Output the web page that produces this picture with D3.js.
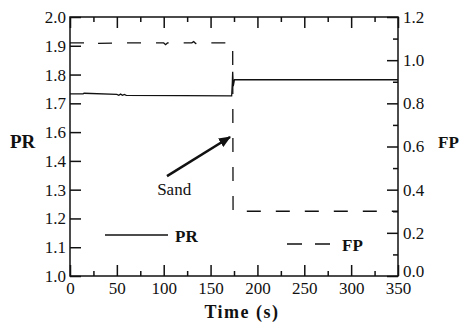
<!DOCTYPE html>
<html>
<head>
<meta charset="utf-8">
<script src="https://cdn.jsdelivr.net/npm/d3@7/dist/d3.min.js"></script>
<style>
  body { margin: 0; background: #fff; }
  svg text { font-family: 'Liberation Serif', 'Times New Roman', serif; }
</style>
</head>
<body>
<div id="chart"></div>
<script>
// Data
const prTime  = [0, 14, 15, 50, 52, 54, 56, 58, 60, 120, 172.5, 173.2, 173.6, 174.2, 175.5, 350];
const prValue = [1.733, 1.733, 1.735, 1.731, 1.728, 1.732, 1.728, 1.731, 1.728, 1.727, 1.726, 1.77, 1.81, 1.76, 1.782, 1.782];

const fpTime  = [0, 18, 20, 22, 60, 100, 102, 104, 130, 132, 134, 136, 150, 172.5, 173, 173.6, 174, 350];
const fpValue = [1.08, 1.08, 1.085, 1.077, 1.08, 1.08, 1.072, 1.08, 1.08, 1.086, 1.077, 1.08, 1.08, 1.08, 1.06, 1.06, 0.3, 0.3];

const timeTicks = [0, 50, 100, 150, 200, 250, 300, 350];
const timeMinor = [25, 75, 125, 175, 225, 275, 325];
// the original figure skips "1.5" in its left labels
const prTicks = [1.1, 1.2, 1.3, 1.4, 1.5, 1.6, 1.7, 1.8, 1.9, 2.0];
const prTickLabels = ["1.0", "1.1", "1.2", "1.3", "1.4", "1.6", "1.7", "1.8", "1.9", "2.0"];
const fpTicks = [0, 0.2, 0.4, 0.6, 0.8, 1.0, 1.2];
const fpMinor = [0.1, 0.3, 0.5, 0.7, 0.9, 1.1];

(function () {
const W = 460, H = 330;
const m = { left: 70, right: 398, top: 17, bottom: 276 };
const ink = "#111";
const serif = "'Liberation Serif', 'Times New Roman', serif";

const svg = d3.select("#chart").append("svg")
    .attr("width", W).attr("height", H);

const x = d3.scaleLinear().domain([0, 350]).range([m.left, m.right]);
const yPR = d3.scaleLinear().domain([1.1, 2.0]).range([m.bottom, m.top]);
const yFP = d3.scaleLinear().domain([0, 1.2]).range([m.bottom, m.top]);

// arrow marker
svg.append("defs").append("marker")
    .attr("id", "arrow")
    .attr("viewBox", "0 0 12 10")
    .attr("refX", 11).attr("refY", 5)
    .attr("markerWidth", 12).attr("markerHeight", 10)
    .attr("markerUnits", "userSpaceOnUse")
    .attr("orient", "auto")
  .append("path")
    .attr("d", "M0,0 L12,5 L0,10 z")
    .attr("fill", ink);

// ticks (all pointing inward)
function styleAxis(g) {
    g.attr("font-family", null).attr("font-size", null);
    g.selectAll("line").attr("stroke", ink).attr("stroke-width", 1.5);
    g.selectAll("path.domain").remove();
    g.selectAll("text").attr("fill", ink).style("font-size", "17px")
        .style("font-family", serif);
}

svg.append("g").attr("transform", `translate(0,${m.bottom})`)
    .call(d3.axisBottom(x).tickValues(timeTicks).tickSize(-11).tickSizeOuter(0).tickPadding(6).tickFormat(d3.format("d")))
    .call(styleAxis);
svg.append("g").attr("transform", `translate(0,${m.bottom})`)
    .call(d3.axisBottom(x).tickValues(timeMinor).tickSize(-5).tickSizeOuter(0).tickFormat(""))
    .call(styleAxis);
svg.append("g").attr("transform", `translate(0,${m.top})`)
    .call(d3.axisTop(x).tickValues(timeTicks).tickSize(-11).tickSizeOuter(0).tickFormat(""))
    .call(styleAxis);
svg.append("g").attr("transform", `translate(0,${m.top})`)
    .call(d3.axisTop(x).tickValues(timeMinor).tickSize(-5).tickSizeOuter(0).tickFormat(""))
    .call(styleAxis);

svg.append("g").attr("transform", `translate(${m.left},0)`)
    .call(d3.axisLeft(yPR).tickValues(prTicks).tickSize(-11).tickSizeOuter(0).tickPadding(4)
        .tickFormat((d, i) => prTickLabels[i]))
    .call(styleAxis);

svg.append("g").attr("transform", `translate(${m.right},0)`)
    .call(d3.axisRight(yFP).tickValues(fpTicks).tickSize(-11).tickSizeOuter(0).tickPadding(5).tickFormat(d3.format(".1f")))
    .call(styleAxis)
    .call(g => g.selectAll("text").filter(d => d === 0).attr("dy", "0.05em"));
svg.append("g").attr("transform", `translate(${m.right},0)`)
    .call(d3.axisRight(yFP).tickValues(fpMinor).tickSize(-5).tickSizeOuter(0).tickFormat(""))
    .call(styleAxis);

// frame
svg.append("rect")
    .attr("x", m.left).attr("y", m.top)
    .attr("width", m.right - m.left).attr("height", m.bottom - m.top)
    .attr("fill", "none").attr("stroke", ink).attr("stroke-width", 1.5);

// series
const prLine = d3.line().x((d, i) => x(prTime[i])).y(d => yPR(d));
const fpLine = d3.line().x((d, i) => x(fpTime[i])).y(d => yFP(d));

svg.append("path")
    .attr("d", prLine(prValue))
    .attr("fill", "none").attr("stroke", ink).attr("stroke-width", 1.3);

svg.append("path")
    .attr("d", fpLine(fpValue))
    .attr("fill", "none").attr("stroke", ink).attr("stroke-width", 1.3)
    .attr("stroke-dasharray", "14,15");

// annotation
svg.append("line")
    .attr("x1", x(103.5)).attr("y1", yPR(1.447))
    .attr("x2", x(170.8)).attr("y2", yPR(1.583))
    .attr("stroke", ink).attr("stroke-width", 2.5)
    .attr("marker-end", "url(#arrow)");
svg.append("text")
    .attr("x", x(93)).attr("y", 195)
    .attr("font-family", serif)
    .attr("font-size", 17).attr("fill", ink)
    .text("Sand");

// legend
svg.append("line")
    .attr("x1", 105).attr("x2", 168).attr("y1", 235).attr("y2", 235)
    .attr("stroke", ink).attr("stroke-width", 1.3);
svg.append("text")
    .attr("x", 175).attr("y", 242)
    .attr("font-family", serif)
    .attr("font-size", 17).attr("font-weight", "bold").attr("fill", ink)
    .text("PR");
svg.append("line")
    .attr("x1", 287).attr("x2", 330).attr("y1", 244).attr("y2", 244)
    .attr("stroke", ink).attr("stroke-width", 1.3)
    .attr("stroke-dasharray", "15,13");
svg.append("text")
    .attr("x", 342).attr("y", 251)
    .attr("font-family", serif)
    .attr("font-size", 17).attr("font-weight", "bold").attr("fill", ink)
    .text("FP");

// axis titles
svg.append("text")
    .attr("x", 242).attr("y", 318)
    .attr("text-anchor", "middle")
    .attr("font-family", serif)
    .attr("font-size", 18).attr("font-weight", "bold").attr("letter-spacing", 1.5)
    .attr("fill", ink)
    .text("Time (s)");
svg.append("text")
    .attr("x", 10).attr("y", 148)
    .attr("font-family", serif)
    .attr("font-size", 19).attr("font-weight", "bold").attr("fill", ink)
    .text("PR");
svg.append("text")
    .attr("x", 438).attr("y", 148)
    .attr("font-family", serif)
    .attr("font-size", 17).attr("font-weight", "bold").attr("fill", ink)
    .text("FP");
})();
</script>
</body>
</html>
